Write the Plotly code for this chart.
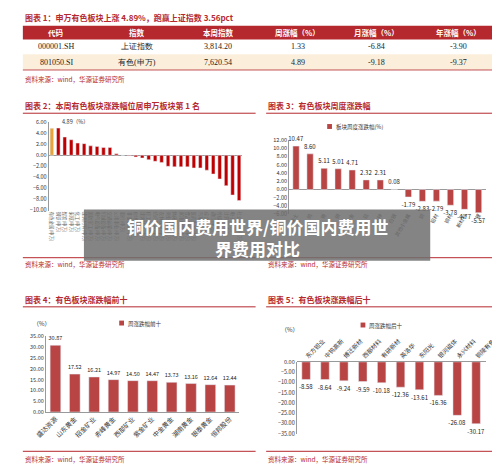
import plotly.graph_objects as go

W, H = 500, 465
def X(px): return px / W
def Y(py): return 1 - py / H

tbl_header = ["代码", "指数", "本周指数", "周涨幅（%）", "月涨幅（%）", "年涨幅（%）"]
tbl_row1 = ["000001.SH", "上证指数", "3,814.20", "1.33", "-6.84", "-3.90"]
tbl_row2 = ["801050.SI", "有色(申万)", "7,620.54", "4.89", "-9.18", "-9.37"]

c2_names = ["有色金属(申万)", "钢铁(申万)", "煤炭(申万)", "采掘(申万)", "化工(申万)", "建筑材料(申万)",
            "国防军工(申万)", "电气设备(申万)", "机械设备(申万)", "交通运输(申万)", "公用事业(申万)",
            "银行(申万)", "非银金融(申万)", "房地产(申万)", "建筑装饰(申万)", "轻工制造(申万)",
            "纺织服装(申万)", "农林牧渔(申万)", "商业贸易(申万)", "休闲服务(申万)", "家用电器(申万)",
            "食品饮料(申万)", "医药生物(申万)", "汽车(申万)", "综合(申万)", "通信(申万)",
            "传媒(申万)", "计算机(申万)", "电子(申万)", "社会服务(申万)"]
c2_vals = [4.89, 4.92, 3.30, 2.80, 2.20, 2.10, 1.70, 1.60, 1.40, 1.40, 0.25, 0.0, -0.10, -0.30,
           -0.50, -0.80, -1.10, -1.30, -2.00, -2.10, -2.10, -2.10, -2.30, -2.30, -2.70, -3.40,
           -4.30, -5.50, -7.20, -8.20]

c3_names = ["稀土", "钨", "锡", "钼", "黄金", "铝", "铅锌", "白银", "其他小金属", "铜", "铝材", "铜材", "新材料", "锂"]
c3_vals = [10.47, 8.60, 5.11, 5.01, 4.71, 2.32, 2.31, 0.08, -1.79, -2.83, -2.79, -3.78, -4.77, -5.57]

c4_names = ["盛达资源", "山东黄金", "招金矿业", "赤峰黄金", "西部矿业", "紫金矿业", "中金黄金", "湖南黄金", "银泰黄金", "恒邦股份"]
c4_vals = [30.87, 17.52, 16.21, 14.97, 14.50, 14.47, 13.73, 13.16, 12.64, 12.44]

c5_names = ["东方钽业", "中钨高新", "博迁新材", "西部材料", "有研新材", "英洛华", "东阳光", "银河磁体", "永兴材料", "铜陵有色"]
c5_vals = [-8.58, -8.64, -9.24, -9.59, -10.18, -12.36, -13.61, -16.36, -26.08, -30.17]

FONT = "Noto Sans CJK SC"
RED = "#B5292E"
BAR = "#B94444"
fig = go.Figure()

fig.add_bar(x=c2_names, y=c2_vals, marker_color=["#E8A33A"] + ["#C00000"] * (len(c2_vals) - 1),
            xaxis="x", yaxis="y", width=0.55, showlegend=False)
fig.add_bar(x=c3_names, y=c3_vals, marker_color=BAR, xaxis="x2", yaxis="y2", width=0.45,
            text=[f"{v:.2f}" for v in c3_vals], textposition="outside", textfont=dict(size=6),
            constraintext="none", cliponaxis=False, name="板块周度涨跌幅(%)")
fig.add_bar(x=c4_names, y=c4_vals, marker_color=BAR, xaxis="x3", yaxis="y3", width=0.55,
            text=[f"{v:.2f}" for v in c4_vals], textposition="outside", textfont=dict(size=5.5),
            constraintext="none", cliponaxis=False, name="周涨跌幅前十")
fig.add_bar(x=c5_names, y=c5_vals, marker_color=BAR, xaxis="x4", yaxis="y4", width=0.45,
            text=[f"{v:.2f}" for v in c5_vals], textposition="outside", textfont=dict(size=6),
            constraintext="none", cliponaxis=False, name="周涨跌幅后十")

ax = dict(showgrid=False, linecolor="#999", linewidth=0.7, ticks="", tickfont=dict(size=5.5, color="#333"),
          fixedrange=True)
fig.update_layout(
    width=W, height=H, margin=dict(l=0, r=0, t=0, b=0), paper_bgcolor="white", plot_bgcolor="white",
    font=dict(family=FONT, color="#222"), showlegend=False,
    xaxis=dict(ax, domain=[X(30), X(233)], tickangle=90, tickfont=dict(size=4.5, color="#666"), showline=False),
    yaxis=dict(ax, domain=[Y(202), Y(112)], range=[-10, 6], dtick=2, tickformat=".2f", zeroline=True,
               zerolinecolor="#999", zerolinewidth=0.7),
    xaxis2=dict(ax, domain=[X(282), X(488)], tickangle=-60, tickfont=dict(size=5, color="#333"), showline=False),
    yaxis2=dict(ax, domain=[Y(206), Y(130)], range=[-6, 12], dtick=2, tickformat=".2f", zeroline=True,
                zerolinecolor="#999", zerolinewidth=0.7, anchor="x2"),
    xaxis3=dict(ax, domain=[X(27), X(230)], tickangle=-45, tickfont=dict(size=6.5, color="#333"), anchor="y3"),
    yaxis3=dict(ax, domain=[Y(407), Y(330)], range=[0, 35], dtick=5, tickformat=".2f", anchor="x3"),
    xaxis4=dict(ax, domain=[X(290), X(488)], tickangle=-45, side="top", tickfont=dict(size=6, color="#333"),
                anchor="y4", showline=False),
    yaxis4=dict(ax, domain=[Y(429), Y(356)], range=[-35, 0], dtick=5, tickformat=".2f", anchor="x4",
                zeroline=True, zerolinecolor="#999", zerolinewidth=0.7),
)

shapes, anns = [], []
def txt(px, py, s, size=7, color="#222", xa="left", bold=False, font=FONT):
    anns.append(dict(x=X(px), y=Y(py), xref="paper", yref="paper", text=f"<b>{s}</b>" if bold else s,
                     showarrow=False, xanchor=xa, yanchor="middle", font=dict(size=size, color=color, family=font)))
def rect(x0, y0, x1, y1, fill):
    shapes.append(dict(type="rect", xref="paper", yref="paper", x0=X(x0), x1=X(x1), y0=Y(y1), y1=Y(y0),
                       fillcolor=fill, line=dict(width=0), layer="below"))
def hline(x0, x1, py, color=RED, w=1):
    shapes.append(dict(type="line", xref="paper", yref="paper", x0=X(x0), x1=X(x1), y0=Y(py), y1=Y(py),
                       line=dict(color=color, width=w)))

txt(3, 6, "图表 1：申万有色板块上涨 4.89%，跑赢上证指数 3.56pct", 8, RED, bold=True)
rect(3, 14, 497, 28, RED)
rect(3, 43, 497, 59, "#FBEFDC")
hline(3, 497, 59, RED, 0.8)
cols = [38, 123, 208, 291, 374, 460]
for i, c in enumerate(cols):
    txt(c, 21, tbl_header[i], 7.5, "white", "center", bold=True)
    txt(c, 35, tbl_row1[i], 8, "#222", "center", font="Liberation Serif")
    txt(c, 51, tbl_row2[i], 8, "#222", "center", font="Liberation Serif")
txt(3, 68, "资料来源：wind，华源证券研究所", 6.5, RED)

txt(3, 95, "图表 2：本周有色板块涨跌幅位居申万板块第 1 名", 8, RED, bold=True)
txt(258, 95, "图表 3：有色板块周度涨跌幅", 8, RED, bold=True)
hline(3, 247, 103); hline(258, 497, 103)
txt(42, 112, "4.89（%）", 5.5, "#333")
rect(322, 114, 327, 119, BAR); txt(329, 117, "板块周度涨跌幅(%)", 5.5, "#333")
hline(3, 247, 250); hline(258, 497, 250)
txt(3, 256, "资料来源：wind，华源证券研究所", 6.5, RED)
txt(258, 256, "资料来源：wind，华源证券研究所", 6.5, RED)

txt(3, 293, "图表 4：有色板块涨跌幅前十", 8, RED, bold=True)
txt(258, 293, "图表 5：有色板块涨跌幅后十", 8, RED, bold=True)
hline(3, 247, 300); hline(258, 497, 300)
txt(12, 317, "（%）", 6, "#333")
rect(104, 314, 109, 319, BAR); txt(111, 317, "周涨跌幅前十", 5.5, "#333")
txt(272, 323, "（%）", 6, "#333")
rect(357, 316, 362, 321, BAR); txt(364, 319, "周涨跌幅后十", 5.5, "#333")
hline(3, 247, 447); hline(258, 497, 447)
txt(3, 455, "资料来源：wind，华源证券研究所", 6.5, RED)
txt(258, 455, "资料来源：wind，华源证券研究所", 6.5, RED)

shapes.append(dict(type="rect", xref="paper", yref="paper", x0=X(67), x1=X(430), y0=Y(253), y1=Y(201),
                   fillcolor="rgba(110,110,110,0.85)", line=dict(width=0), layer="above"))
txt(249, 218, "铜价国内费用世界/铜价国内费用世", 17, "white", "center", bold=True)
txt(249, 241, "界费用对比", 17, "white", "center", bold=True)

fig.update_layout(shapes=shapes, annotations=anns)
fig.write_html("out.html")
